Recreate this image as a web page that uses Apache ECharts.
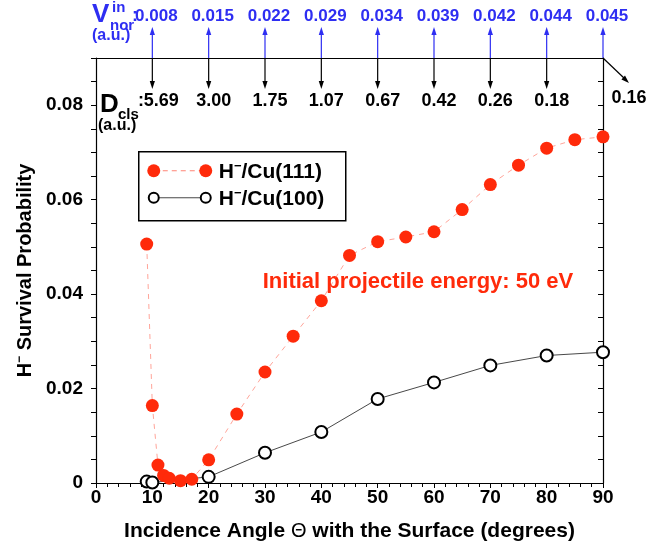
<!DOCTYPE html>
<html>
<head>
<meta charset="utf-8">
<script src="https://cdn.jsdelivr.net/npm/echarts@6/dist/echarts.min.js"></script>
<style>
  html, body { margin: 0; padding: 0; background: #fff; }
  #chart { width: 647px; height: 548px; }
</style>
</head>
<body>
<div id="chart"></div>
<script>
// Incidence angles (degrees) and H- survival probabilities
const anglesCu111 = [9, 10, 11, 12, 13, 15, 17, 20, 25, 30, 35, 40, 45, 50, 55, 60, 65, 70, 75, 80, 85, 90];
const survCu111   = [0.0506, 0.0164, 0.0038, 0.0016, 0.0010, 0.0005, 0.0008, 0.0049, 0.0146, 0.0235, 0.0311, 0.0386,
                     0.0482, 0.0511, 0.0521, 0.0532, 0.0579, 0.0632, 0.0673, 0.0709, 0.0727, 0.0733];
const anglesCu100 = [9, 10, 20, 30, 40, 50, 60, 70, 80, 90];
const survCu100   = [0.0003, 0.0001, 0.0013, 0.0064, 0.0108, 0.0178, 0.0213, 0.0249, 0.0270, 0.0277];

// Secondary scales marked along the top edge
const markAngles  = [10, 20, 30, 40, 50, 60, 70, 80, 90];
const vnorLabels  = ['0.008', '0.015', '0.022', '0.029', '0.034', '0.039', '0.042', '0.044', '0.045'];
const dclsLabels  = ['5.69', '3.00', '1.75', '1.07', '0.67', '0.42', '0.26', '0.18', '0.16'];

const Y_MAX = 0.09;
const FONT = "'Liberation Sans', Arial, Helvetica, sans-serif";
const RED = '#ff2a0a';
const BLUE = '#2e2ef2';

const chart = echarts.init(document.getElementById('chart'), null, { renderer: 'canvas' });

function arrowHead(tipX, tipY, dx, dy, color) {
  const len = Math.hypot(dx, dy);
  const ux = dx / len, uy = dy / len;
  const bx = tipX - ux * 8, by = tipY - uy * 8;
  return {
    type: 'polygon',
    shape: { points: [[tipX, tipY], [bx - uy * 2.6, by + ux * 2.6], [bx + uy * 2.6, by - ux * 2.6]] },
    style: { fill: color }
  };
}

const option = {
  animation: false,
  backgroundColor: '#fff',
  grid: { left: 96, right: 44, top: 58, bottom: 65, containLabel: false },
  xAxis: [
    {
      type: 'value', min: 0, max: 90, interval: 10, position: 'bottom',
      name: 'Incidence Angle {t|Θ} with the Surface (degrees)',
      nameLocation: 'middle', nameGap: 38,
      nameTextStyle: {
        fontFamily: FONT, fontSize: 21, fontWeight: 'bold', color: '#000',
        rich: { t: { fontFamily: FONT, fontSize: 20, fontWeight: 'normal', color: '#000' } }
      },
      axisLine: { show: true, onZero: false, lineStyle: { color: '#000', width: 1.2 } },
      axisTick: { show: true, inside: false, length: 5, lineStyle: { color: '#000' } },
      minorTick: { show: true, splitNumber: 5, length: 4, lineStyle: { color: '#000' } },
      axisLabel: { fontFamily: FONT, fontSize: 19, fontWeight: 'bold', color: '#000', margin: 5 },
      splitLine: { show: false }
    },
    {
      type: 'value', min: 0, max: 90, position: 'top',
      axisLine: { show: true, onZero: false, lineStyle: { color: '#000', width: 1.2 } },
      axisTick: { show: false }, axisLabel: { show: false }, splitLine: { show: false }
    }
  ],
  yAxis: [
    {
      type: 'value', min: 0, max: Y_MAX, interval: 0.02, position: 'left',
      name: '{h|H}{s|−} Survival Probability',
      nameLocation: 'middle', nameGap: 58, nameRotate: 90,
      nameTextStyle: {
        fontFamily: FONT, fontSize: 20, fontWeight: 'bold', color: '#000',
        rich: {
          h: { fontFamily: FONT, fontSize: 20, fontWeight: 'bold', color: '#000' },
          s: { fontFamily: FONT, fontSize: 12, fontWeight: 'bold', color: '#000', verticalAlign: 'top', padding: [0, 0, 10, 0] }
        }
      },
      axisLine: { show: true, onZero: false, lineStyle: { color: '#000', width: 1.2 } },
      axisTick: { show: true, inside: false, length: 5, lineStyle: { color: '#000' } },
      minorTick: { show: true, splitNumber: 4, length: 5, lineStyle: { color: '#000' } },
      axisLabel: {
        fontFamily: FONT, fontSize: 19, fontWeight: 'bold', color: '#000', margin: 13,
        formatter: v => (v > 0.085 ? '' : (v === 0 ? '0' : v.toFixed(2)))
      },
      splitLine: { show: false }
    },
    {
      type: 'value', min: 0, max: Y_MAX, interval: 0.02, position: 'right',
      axisLine: { show: true, onZero: false, lineStyle: { color: '#000', width: 1.2 } },
      axisTick: { show: true, inside: true, length: 5, lineStyle: { color: '#000' } },
      minorTick: { show: true, splitNumber: 4, length: 5, lineStyle: { color: '#000' } },
      axisLabel: { show: false }, splitLine: { show: false }
    }
  ],
  series: [
    {
      name: 'H-/Cu(100)', type: 'line', xAxisIndex: 0, yAxisIndex: 0,
      data: anglesCu100.map((a, i) => [a, survCu100[i]]),
      symbol: 'circle', symbolSize: 12,
      itemStyle: { color: '#fff', borderColor: '#000', borderWidth: 2 },
      lineStyle: { color: '#333', width: 0.9 },
      z: 3
    },
    {
      name: 'H-/Cu(111)', type: 'line', xAxisIndex: 0, yAxisIndex: 0,
      data: anglesCu111.map((a, i) => [a, survCu111[i]]),
      symbol: 'circle', symbolSize: 13,
      itemStyle: { color: RED, borderWidth: 0 },
      lineStyle: { color: 'rgba(255,90,70,0.55)', width: 1, type: [5, 5] },
      z: 4
    },
    {
      // arrows and values of the normal velocity / distance scales above the frame
      type: 'custom', xAxisIndex: 0, yAxisIndex: 0, clip: false, silent: true, z: 5,
      data: markAngles.map(a => [a, Y_MAX]),
      renderItem: function (params, api) {
        const i = params.dataIndex;
        const p = api.coord([api.value(0), api.value(1)]);
        const x = p[0], y = p[1];
        const last = i === markAngles.length - 1;
        const kids = [];
        // upward blue arrow
        kids.push({ type: 'line', shape: { x1: x, y1: y, x2: x, y2: y - 26 }, style: { stroke: BLUE, lineWidth: 1.2 } });
        kids.push(arrowHead(x, y - 31, 0, -1, BLUE));
        kids.push({
          type: 'text', x: x + 4, y: y - 42,
          style: { text: vnorLabels[i], fontFamily: FONT, fontSize: 17, fontWeight: 'bold', fill: BLUE, textAlign: 'center', textVerticalAlign: 'middle' }
        });
        // downward black arrow
        if (!last) {
          kids.push({ type: 'line', shape: { x1: x, y1: y, x2: x, y2: y + 26 }, style: { stroke: '#000', lineWidth: 1.2 } });
          kids.push(arrowHead(x, y + 31, 0, 1, '#000'));
          kids.push({
            type: 'text', x: x + (i === 0 ? 9 : 5), y: y + 43,
            style: { text: dclsLabels[i], fontFamily: FONT, fontSize: 18, fontWeight: 'bold', fill: '#000', textAlign: 'center', textVerticalAlign: 'middle' }
          });
        } else {
          kids.push({ type: 'line', shape: { x1: x, y1: y, x2: x + 22, y2: y + 21 }, style: { stroke: '#000', lineWidth: 1.2 } });
          kids.push(arrowHead(x + 26, y + 25, 1, 0.95, '#000'));
          kids.push({
            type: 'text', x: x + 26, y: y + 40,
            style: { text: dclsLabels[i], fontFamily: FONT, fontSize: 18, fontWeight: 'bold', fill: '#000', textAlign: 'center', textVerticalAlign: 'middle' }
          });
        }
        return { type: 'group', children: kids };
      }
    }
  ],
  graphic: [
    // V_nor^in (a.u.) heading
    { type: 'text', left: 92, top: 2, style: { text: 'V', fontFamily: FONT, fontSize: 26, fontWeight: 'bold', fill: BLUE } },
    { type: 'text', left: 112, top: 0, style: { text: 'in', fontFamily: FONT, fontSize: 15, fontWeight: 'bold', fill: BLUE } },
    { type: 'text', left: 110, top: 18, style: { text: 'nor', fontFamily: FONT, fontSize: 15, fontWeight: 'bold', fill: BLUE } },
    { type: 'text', left: 132, top: 7, style: { text: ':', fontFamily: FONT, fontSize: 18, fontWeight: 'bold', fill: BLUE } },
    { type: 'text', left: 92, top: 28, style: { text: '(a.u.)', fontFamily: FONT, fontSize: 16, fontWeight: 'bold', fill: BLUE } },
    // D_cls (a.u.) heading
    { type: 'text', left: 100, top: 92, style: { text: 'D', fontFamily: FONT, fontSize: 26, fontWeight: 'bold', fill: '#000' } },
    { type: 'text', left: 118, top: 107, style: { text: 'cls', fontFamily: FONT, fontSize: 15, fontWeight: 'bold', fill: '#000' } },
    { type: 'text', left: 138, top: 92, style: { text: ':', fontFamily: FONT, fontSize: 18, fontWeight: 'bold', fill: '#000' } },
    { type: 'text', left: 98, top: 118, style: { text: '(a.u.)', fontFamily: FONT, fontSize: 16, fontWeight: 'bold', fill: '#000' } },
    // legend
    {
      type: 'group', left: 138, top: 151,
      children: [
        { type: 'rect', shape: { x: 0, y: 0, width: 207, height: 69 }, style: { fill: '#fff', stroke: '#000', lineWidth: 1.5 } },
        { type: 'line', shape: { x1: 15, y1: 19, x2: 67, y2: 19 }, style: { stroke: 'rgba(255,90,70,0.75)', lineWidth: 1, lineDash: [5, 4] } },
        { type: 'circle', shape: { cx: 15, cy: 19, r: 6.5 }, style: { fill: RED } },
        { type: 'circle', shape: { cx: 67, cy: 19, r: 6.5 }, style: { fill: RED } },
        { type: 'line', shape: { x1: 15, y1: 46, x2: 67, y2: 46 }, style: { stroke: '#333', lineWidth: 0.9 } },
        { type: 'circle', shape: { cx: 15, cy: 46, r: 5 }, style: { fill: '#fff', stroke: '#000', lineWidth: 2 } },
        { type: 'circle', shape: { cx: 67, cy: 46, r: 5 }, style: { fill: '#fff', stroke: '#000', lineWidth: 2 } },
        {
          type: 'text', x: 80, y: 20,
          style: {
            text: '{h|H}{s|−}{h|/Cu(111)}', textVerticalAlign: 'middle',
            rich: {
              h: { fontFamily: FONT, fontSize: 21, fontWeight: 'bold', fill: '#000' },
              s: { fontFamily: FONT, fontSize: 13, fontWeight: 'bold', fill: '#000', verticalAlign: 'top', padding: [0, 0, 11, 0] }
            }
          }
        },
        {
          type: 'text', x: 80, y: 47,
          style: {
            text: '{h|H}{s|−}{h|/Cu(100)}', textVerticalAlign: 'middle',
            rich: {
              h: { fontFamily: FONT, fontSize: 21, fontWeight: 'bold', fill: '#000' },
              s: { fontFamily: FONT, fontSize: 13, fontWeight: 'bold', fill: '#000', verticalAlign: 'top', padding: [0, 0, 11, 0] }
            }
          }
        }
      ]
    },
    // energy note
    {
      type: 'text', x: 418, y: 282,
      style: { text: 'Initial projectile energy: 50 eV', fontFamily: FONT, fontSize: 22, fontWeight: 'bold', fill: RED, textAlign: 'center', textVerticalAlign: 'middle' }
    }
  ]
};

chart.setOption(option);
</script>
</body>
</html>
